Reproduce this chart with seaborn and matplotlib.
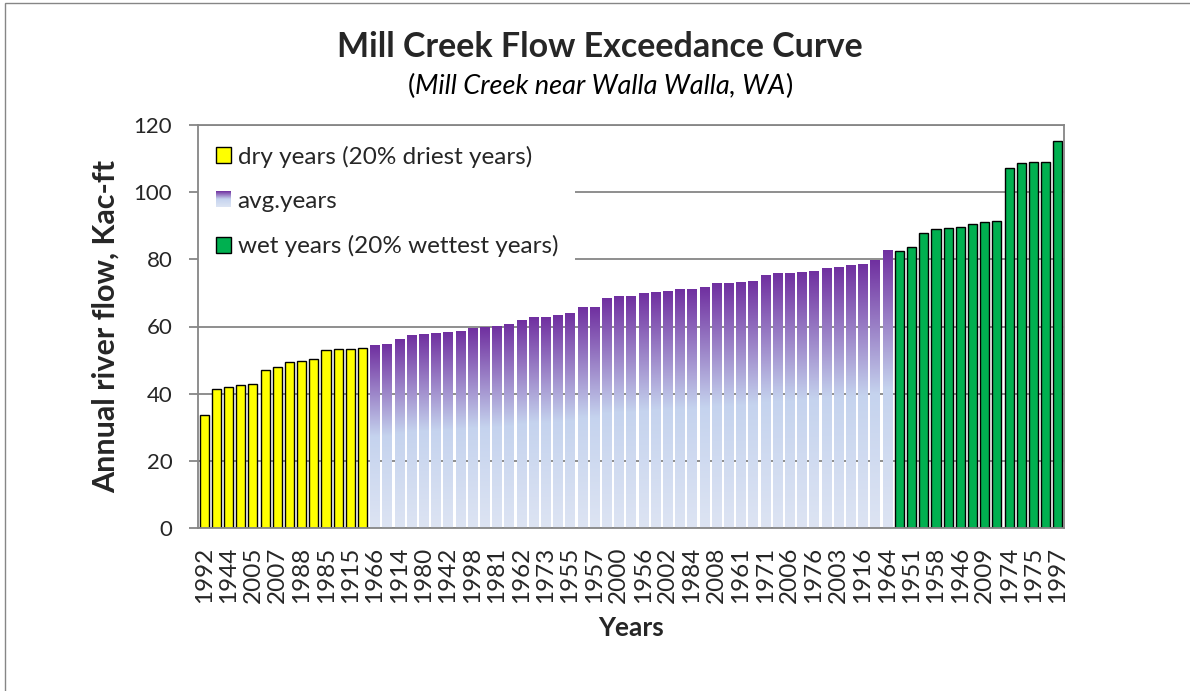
import numpy as np
import pandas as pd
import matplotlib
matplotlib.use("Agg")
import matplotlib.pyplot as plt
import seaborn as sns
from matplotlib.colors import LinearSegmentedColormap
from matplotlib.patches import Patch, Rectangle
from matplotlib.legend_handler import HandlerBase
from matplotlib.offsetbox import TextArea, HPacker, AnchoredOffsetbox

# ---------------- data (Kac-ft, sorted ascending) ----------------
dry_flow = [33.6, 41.4, 42.0, 42.7, 42.9, 47.1, 48.0, 49.5, 49.6, 50.4, 53.0, 53.4, 53.4, 53.7]
avg_flow = [54.2, 54.5, 56.0, 57.2, 57.5, 57.8, 58.1, 58.4, 59.3, 59.6, 60.1, 60.5, 61.7, 62.8,
            62.8, 63.2, 63.8, 65.8, 65.8, 68.4, 68.8, 68.8, 69.7, 70.0, 70.3, 71.1, 71.1, 71.5,
            72.7, 72.7, 73.0, 73.3, 75.1, 75.7, 75.7, 76.0, 76.3, 77.2, 77.5, 78.1, 78.4, 79.6, 82.6]
wet_flow = [82.4, 83.8, 87.8, 89.0, 89.4, 89.6, 90.6, 91.1, 91.5, 107.3, 108.7, 108.9, 109.0, 115.1]

# year labels shown under every other bar
year_labels = ["1992", "1944", "2005", "2007", "1988", "1985", "1915", "1966", "1914", "1980",
               "1942", "1998", "1981", "1962", "1973", "1955", "1957", "2000", "1956", "2002",
               "1984", "2008", "1961", "1971", "2006", "1976", "2003", "1916", "1964", "1951",
               "1958", "1946", "2009", "1974", "1975", "1997"]

legend_labels = ["dry years (20% driest years)", "avg.years", "wet years (20% wettest years)"]
y_ticks = [0, 20, 40, 60, 80, 100, 120]

flows = dry_flow + avg_flow + wet_flow
groups = ["dry"] * len(dry_flow) + ["avg"] * len(avg_flow) + ["wet"] * len(wet_flow)
df = pd.DataFrame({"rank": np.arange(len(flows)), "flow": flows, "group": groups})

# ---------------- style ----------------
sns.set_style("white")
plt.rcParams["font.family"] = ["Lato", "DejaVu Sans"]

YELLOW = "#FFFF00"
GREEN = "#00B050"
PURPLE = "#7030A0"
GRID = "#868686"
grad_cmap = LinearSegmentedColormap.from_list(
    "avg", [(0.0, "#DDE4F3"), (0.5, "#C5D3EE"), (1.0, PURPLE)])

W, H = 1190, 691
fig = plt.figure(figsize=(W / 100, H / 100), dpi=100)
ax = fig.add_axes([198 / W, 1 - 528 / H, (1064 - 198) / W, (528 - 125) / H])

sns.barplot(data=df, x="rank", y="flow", hue="group",
            palette={"dry": YELLOW, "avg": PURPLE, "wet": GREEN},
            dodge=False, width=0.75, saturation=1, legend=False, ax=ax, zorder=2)

grad = np.linspace(0, 1, 256).reshape(-1, 1)
for p in list(ax.patches):
    r = int(round(p.get_x() + p.get_width() / 2))
    if groups[r] == "avg":
        p.set_facecolor("none")
        p.set_edgecolor("none")
        ax.imshow(grad, cmap=grad_cmap, origin="lower", aspect="auto",
                  interpolation="bilinear", zorder=2,
                  extent=[p.get_x(), p.get_x() + p.get_width(), 0, p.get_height()])
    else:
        p.set_edgecolor("black")
        p.set_linewidth(1.0)

n = len(flows)
ax.set_xlim(-0.5, n - 0.5)
ax.set_ylim(y_ticks[0], y_ticks[-1])
ax.set_yticks(y_ticks)
ax.set_xticks(np.arange(0, n, 2))
ax.set_xticklabels(year_labels, rotation=90)
ax.set_xticks(np.arange(-0.5, n, 1), minor=True)

ax.tick_params(axis="x", which="major", length=0, pad=13.5, labelsize=17.5)
ax.tick_params(axis="x", which="minor", length=5, width=1.3, color=GRID, direction="out")
ax.tick_params(axis="y", which="major", length=6.5, width=1.3, color=GRID, direction="out",
               pad=12, labelsize=16, left=True)

ax.set_axisbelow(True)
ax.yaxis.grid(True, color=GRID, linewidth=1.3)
ax.xaxis.grid(False)
for s in ax.spines.values():
    s.set_visible(True)
    s.set_color(GRID)
    s.set_linewidth(1.3)

ax.set_ylabel("Annual river flow, Kac-ft", fontsize=22, fontweight="bold")
ax.yaxis.label.set_verticalalignment("center")
ax.yaxis.set_label_coords((106 - 198) / 866, 0.5)
ax.set_xlabel("Years", fontsize=19, fontweight="bold")
ax.xaxis.label.set_verticalalignment("center")
ax.xaxis.set_label_coords(0.5, (528 - 628) / 403)

# ---------------- legend ----------------
class GradientHandler(HandlerBase):
    def create_artists(self, legend, orig_handle, xdescent, ydescent, width, height,
                       fontsize, trans):
        k = 16
        arts = []
        for i in range(k):
            arts.append(Rectangle((-xdescent, -ydescent + height * i / k), width,
                                  height / k * 1.08, facecolor=grad_cmap((i + 0.5) / k),
                                  edgecolor="none", transform=trans))
        return arts

avg_handle = Patch(facecolor=PURPLE)
handles = [Patch(facecolor=YELLOW, edgecolor="black", linewidth=1.0),
           avg_handle,
           Patch(facecolor=GREEN, edgecolor="black", linewidth=1.0)]
leg = ax.legend(handles, legend_labels, handler_map={avg_handle: GradientHandler()},
                loc="upper left", bbox_to_anchor=(0, 0, (575 - 198) / 866, 1 - 3 / 403),
                mode="expand", borderaxespad=0, borderpad=0.72, labelspacing=0.96,
                handlelength=0.63, handleheight=0.63, handletextpad=0.28,
                fontsize=17.5, frameon=True, fancybox=False, framealpha=1)
leg.get_frame().set_facecolor("white")
leg.get_frame().set_edgecolor("none")
leg.set_zorder(2.2)  # above gridlines, below the axis spines

# ---------------- titles ----------------
fig.text(600 / W, 1 - 47 / H, "Mill Creek Flow Exceedance Curve", ha="center", va="center",
         fontsize=24.5, fontweight="bold")
tp = dict(fontsize=19.5, color="black")
sub = HPacker(children=[TextArea("(", textprops=tp),
                        TextArea("Mill Creek near Walla Walla, WA", textprops=dict(tp, style="italic")),
                        TextArea(")", textprops=tp)], sep=0, pad=0, align="baseline")
abox = AnchoredOffsetbox(loc="center", child=sub, frameon=False, pad=0, borderpad=0,
                         bbox_to_anchor=(600 / W, 1 - 86 / H), bbox_transform=fig.transFigure)
fig.add_artist(abox)

# outer chart border (left and top edges visible)
fig.patches.append(Rectangle((5 / W, -0.1), 1.2, 1 - 2.5 / H + 0.1, transform=fig.transFigure,
                             fill=False, edgecolor=GRID, linewidth=1.0))

fig.savefig("out.png", dpi=100)
